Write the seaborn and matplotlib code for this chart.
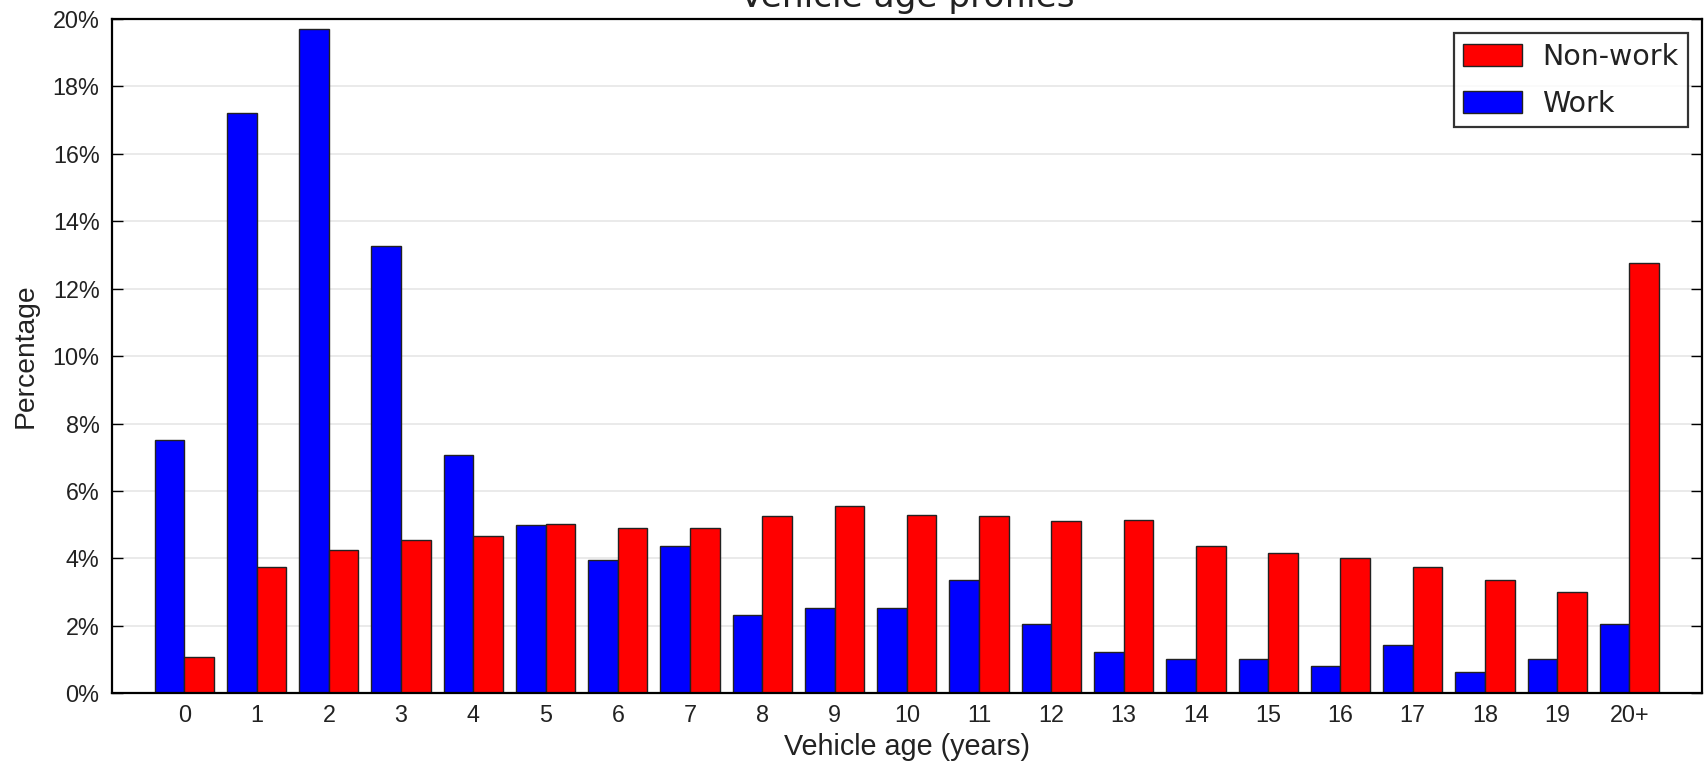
import matplotlib
matplotlib.use("Agg")
import matplotlib.pyplot as plt
import seaborn as sns
import pandas as pd
from matplotlib.patches import Patch
from matplotlib.ticker import MultipleLocator, FuncFormatter

ages = ["0", "1", "2", "3", "4", "5", "6", "7", "8", "9", "10",
        "11", "12", "13", "14", "15", "16", "17", "18", "19", "20+"]
work = [7.50, 17.22, 19.69, 13.28, 7.08, 4.98, 3.94, 4.38, 2.32, 2.52, 2.52,
        3.35, 2.06, 1.23, 1.02, 1.02, 0.82, 1.44, 0.62, 1.02, 2.06]
non_work = [1.08, 3.74, 4.26, 4.55, 4.67, 5.03, 4.89, 4.89, 5.26, 5.56, 5.30,
            5.26, 5.10, 5.14, 4.38, 4.17, 4.01, 3.76, 3.35, 3.00, 12.77]
series = ["Work", "Non-work"]
colors = {"Work": "#0000ff", "Non-work": "#ff0000"}

df = pd.DataFrame({
    "age": ages * 2,
    "pct": work + non_work,
    "trip": ["Work"] * len(ages) + ["Non-work"] * len(ages),
})

sns.set_style("white")
plt.rcParams["font.family"] = ["Liberation Sans", "DejaVu Sans"]

fig = plt.figure(figsize=(17.08, 7.61), dpi=100)
ax = fig.add_axes([0.0656, 0.089, 0.9307, 0.886])

sns.barplot(data=df, x="age", y="pct", hue="trip", order=ages,
            hue_order=series, palette=colors, width=0.82, saturation=1,
            edgecolor="#222222", linewidth=1.0, legend=False, ax=ax)

ax.set_xlim(-1.0, 21.0)
ax.set_ylim(0, 20)
ax.yaxis.set_major_locator(MultipleLocator(2))
ax.yaxis.set_major_formatter(FuncFormatter(lambda v, p: f"{v:.0f}%"))
ax.grid(axis="y", color="#e6e6e6", linewidth=1.2)
ax.set_axisbelow(True)

for s in ax.spines.values():
    s.set_visible(True)
    s.set_color("black")
    s.set_linewidth(1.6)

ax.tick_params(axis="y", direction="in", length=8, width=1, left=True,
               right=True, labelsize=16.8, colors="black", pad=9)
ax.tick_params(axis="y", labelcolor="#222222")
ax.tick_params(axis="x", length=0, labelsize=16.8, labelcolor="#222222", pad=8)

ax.set_xlabel("Vehicle age (years)", fontsize=20.7, color="#222222", labelpad=4)
ax.set_ylabel("Percentage", fontsize=20.3, color="#222222", labelpad=10)
ax.set_title("Vehicle age profiles", fontsize=24.7, pad=9,
             family=["DejaVu Sans"], color="#222222")

handles = [Patch(facecolor=colors[n], edgecolor="#222222", linewidth=1.0, label=n)
           for n in ["Non-work", "Work"]]
leg = ax.legend(handles=handles, loc="upper right",
                prop={"family": "DejaVu Sans", "size": 20.5},
                frameon=True, fancybox=False, borderpad=0.33,
                handlelength=2.05, handleheight=0.8, handletextpad=0.72,
                labelspacing=0.68, borderaxespad=0,
                bbox_to_anchor=(0.9914, 0.979))
for t in leg.get_texts():
    t.set_color("#222222")
leg.get_frame().set_edgecolor("black")
leg.get_frame().set_linewidth(1.6)

fig.savefig("out.png", dpi=100)
